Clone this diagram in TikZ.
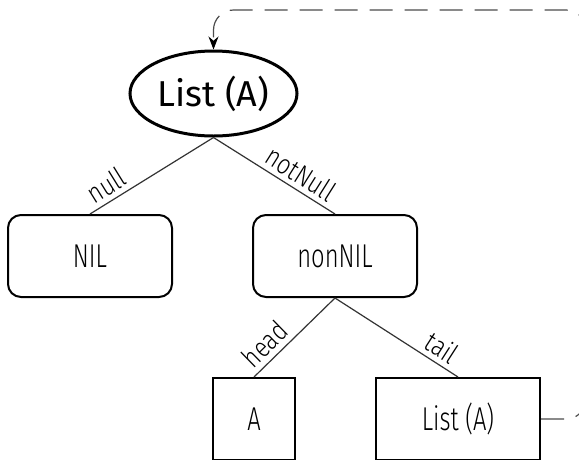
\documentclass[tikz,border=0pt]{standalone}
\usepackage{fontspec}
\usetikzlibrary{shapes.geometric,arrows.meta}
\newfontfamily\boxfont[FakeStretch=0.72]{Fira Sans Light}
\newfontfamily\titlefont{Fira Sans}
\newfontfamily\edgefont[FakeStretch=0.82]{Fira Sans Light}
\begin{document}
\begin{tikzpicture}[x=1pt,y=-1pt,
  typebox/.style={draw, line width=2pt, rounded corners=13pt,
    minimum width=164pt, minimum height=82pt, inner sep=0pt,
    font=\boxfont\fontsize{33}{33}\selectfont},
  fieldbox/.style={draw, line width=2pt, minimum height=82pt, inner sep=0pt,
    font=\boxfont\fontsize{33}{33}\selectfont},
  rootnode/.style={ellipse, draw, line width=3pt, minimum width=167pt,
    minimum height=85pt, inner sep=0pt,
    font=\titlefont\fontsize{36}{36}\selectfont},
  branch/.style={draw=black!80, line width=1.2pt},
  edgelabel/.style={sloped, above, inner sep=5pt,
    font=\edgefont\fontsize{28}{28}\selectfont},
  loopback/.style={draw=black!70, line width=1.2pt,
    dash pattern=on 23pt off 12pt, rounded corners=20pt,
    -{Stealth[length=13pt,width=10pt,color=black]}}]
\clip (0,0) rectangle (579,459);
\fill[white] (0,0) rectangle (579,459);

% the recursive type and its two variants
\node[rootnode] (list) at (213.5,93.5) {List (A)};
\node[typebox] (nil) at (90,256) {NIL};
\node[typebox] (nonnil) at (335,256) {nonNIL};

% fields of the non-empty variant
\node[fieldbox, minimum width=82pt] (head) at (254,419) {A};
\node[fieldbox, minimum width=164pt] (tail) at (458,419) {List (A)};

% branches
\draw[branch] (list.south) -- node[edgelabel, pos=0.8] {null} (nil.north);
\draw[branch] (list.south) -- node[edgelabel, pos=0.65] {notNull} (nonnil.north);
\draw[branch] (nonnil.south) -- node[edgelabel, pos=0.73] {head} (head.north);
\draw[branch] (nonnil.south) -- node[edgelabel, pos=0.8] {tail} (tail.north);

% recursion: the tail refers back to the list type
\coordinate (r1) at (586,419);
\coordinate (r2) at (586,10);
\draw[loopback] (tail.east) -- (r1) -- (r2) -- (list.north |- r2) -- (list.north);
\end{tikzpicture}
\end{document}
